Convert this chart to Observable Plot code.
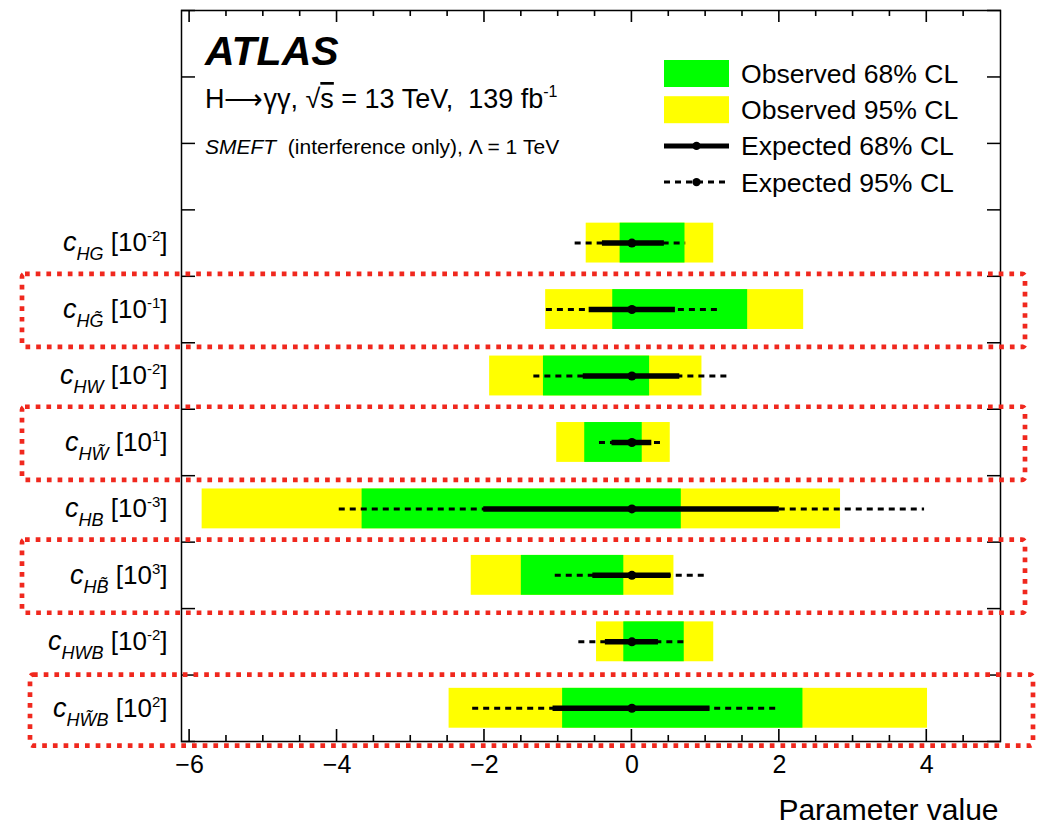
<!DOCTYPE html>
<html>
<head>
<meta charset="utf-8">
<script src="https://cdn.jsdelivr.net/npm/d3@7"></script>
<script src="https://cdn.jsdelivr.net/npm/@observablehq/plot@0.6"></script>
<style>
  html, body { margin: 0; padding: 0; background: #fff; }
  #chart { width: 1040px; height: 826px; }
  text { white-space: pre; }
</style>
</head>
<body>
<div id="chart"></div>
<script>
// ---------------- data ----------------
const params      = ["cHG", "cHGt", "cHW", "cHWt", "cHB", "cHBt", "cHWB", "cHWtB"];
const subscripts  = ["HG", "HG\u0303", "HW", "HW\u0303", "HB", "HB\u0303", "HWB", "HW\u0303B"];
const exponents   = [-2, -1, -2, 1, -3, 3, -2, 2];
const highlighted = ["cHGt", "cHWt", "cHBt", "cHWtB"];

const obs95Lo = [-0.62, -1.17, -1.93, -1.02, -5.83, -2.18, -0.48, -2.48];
const obs95Hi = [ 1.11,  2.33,  0.95,  0.52,  2.83,  0.57,  1.11,  4.01];
const obs68Lo = [-0.16, -0.26, -1.20, -0.64, -3.66, -1.50, -0.11, -0.94];
const obs68Hi = [ 0.72,  1.57,  0.24,  0.14,  0.67, -0.11,  0.71,  2.32];
const exp95Lo = [-0.77, -1.16, -1.33, -0.44, -3.97, -1.04, -0.72, -2.16];
const exp95Hi = [ 0.73,  1.18,  1.33,  0.43,  3.97,  1.03,  0.73,  2.00];
const exp68Lo = [-0.40, -0.58, -0.66, -0.27, -2.01, -0.53, -0.36, -1.07];
const exp68Hi = [ 0.44,  0.59,  0.65,  0.27,  2.00,  0.53,  0.36,  1.06];
const expBest = [ 0, 0, 0, 0, 0, 0, 0, 0];

const xTickLabels  = [-6, -4, -2, 0, 2, 4];
const legendLabels = ["Observed 68% CL", "Observed 95% CL", "Expected 68% CL", "Expected 95% CL"];
const xTitle = "Parameter value";

// ---------------- layout helpers ----------------
const FONT = "'Liberation Sans', Arial, Helvetica, sans-serif";
const GREEN = "#00ff00", YELLOW = "#ffff00", RED = "#f0281e";
const W = 1040, H = 826, ML = 181, MR = 40, MT = 10, MB = 85;
const nRows = params.length, topSpace = 3;

const rows = params.map((p, i) => ({
  key: p, sub: subscripts[i], exp: exponents[i],
  y: nRows - i - 0.5,
  o95lo: obs95Lo[i], o95hi: obs95Hi[i],
  o68lo: obs68Lo[i], o68hi: obs68Hi[i],
  e95lo: exp95Lo[i], e95hi: exp95Hi[i],
  e68lo: exp68Lo[i], e68hi: exp68Hi[i],
  best: expBest[i]
}));
const byKey = new Map(rows.map(r => [r.key, r]));
const yToKey = new Map(rows.map(r => [r.y, r.key]));
const hlRows = rows.filter(r => highlighted.includes(r.key));

const majorTicks = xTickLabels;
const minorTicks = d3.range(-6, 4.51, 0.5).filter(v => !majorTicks.includes(v));
const yTicks = d3.range(0, nRows + topSpace + 0.01, 1);

// inward x ticks on the bottom and top edges of the frame (through the x scale)
function xTicksMark(index, scales, values, dims) {
  const g = d3.create("svg:g");
  const yb = dims.height - dims.marginBottom, yt = dims.marginTop;
  const add = (v, len) => {
    const x = scales.x(v);
    g.append("path").attr("d", `M${x},${yb}V${yb - len}M${x},${yt}V${yt + len}`)
      .attr("stroke", "#000").attr("stroke-width", 1.6).attr("fill", "none");
  };
  majorTicks.forEach(v => add(v, 12));
  minorTicks.forEach(v => add(v, 6));
  return g.node();
}

// text annotations inside the frame
function annotations(index, scales, values, dims) {
  const g = d3.create("svg:g").attr("font-family", FONT).attr("fill", "black").attr("text-anchor", "start");
  const x0 = dims.marginLeft + 24, t = dims.marginTop;
  g.append("text").attr("x", x0).attr("y", t + 55)
    .attr("font-size", 41).attr("font-weight", "bold").attr("font-style", "italic").text("ATLAS");
  const l2 = g.append("text").attr("x", x0).attr("y", t + 98).attr("font-size", 27);
  l2.append("tspan").text("H\u27F6\u03B3\u03B3, \u221A");
  l2.append("tspan").attr("text-decoration", "overline").text("s");
  l2.append("tspan").text(" = 13 TeV,  139 fb");
  l2.append("tspan").attr("font-size", 16).attr("dy", -11).text("-1");
  const l3 = g.append("text").attr("x", x0).attr("y", t + 144).attr("font-size", 21);
  l3.append("tspan").attr("font-style", "italic").text("SMEFT");
  l3.append("tspan").text("  (interference only), \u039B = 1 TeV");
  return g.node();
}

// legend inside the frame
function legend(index, scales, values, dims) {
  const g = d3.create("svg:g").attr("font-family", FONT).attr("text-anchor", "start");
  const x0 = dims.width - dims.marginRight - 336;
  const y0 = dims.marginTop + 63.5, step = 36.2, w = 65;
  legendLabels.forEach((lab, k) => {
    const cy = y0 + k * step;
    if (k < 2) {
      g.append("rect").attr("x", x0).attr("y", cy - 13.5).attr("width", w).attr("height", 27)
        .attr("fill", k === 0 ? GREEN : YELLOW);
    } else {
      g.append("line").attr("x1", x0).attr("x2", x0 + w).attr("y1", cy).attr("y2", cy)
        .attr("stroke", "black").attr("stroke-width", k === 2 ? 5 : 3)
        .attr("stroke-dasharray", k === 2 ? null : "6,5");
      g.append("circle").attr("cx", x0 + w / 2).attr("cy", cy).attr("r", 4.2).attr("fill", "black");
    }
    g.append("text").attr("x", x0 + 77).attr("y", cy).attr("dy", "0.36em")
      .attr("font-size", 26.6).attr("fill", "black").text(lab);
  });
  return g.node();
}

const chart = Plot.plot({
  width: W, height: H,
  marginLeft: ML, marginRight: MR, marginTop: MT, marginBottom: MB,
  style: { fontFamily: FONT, background: "#fff", overflow: "visible", color: "black" },
  x: { domain: [-6.11, 5], label: null },
  y: { domain: [0, nRows + topSpace], label: null },
  marks: [
    Plot.rect(rows, { x1: "o95lo", x2: "o95hi", y1: d => d.y - 0.3, y2: d => d.y + 0.3, fill: YELLOW }),
    Plot.rect(rows, { x1: "o68lo", x2: "o68hi", y1: d => d.y - 0.3, y2: d => d.y + 0.3, fill: GREEN }),
    Plot.ruleY(rows, { y: "y", x1: "e95lo", x2: "e95hi", stroke: "black", strokeWidth: 3, strokeDasharray: "6,5" }),
    Plot.ruleY(rows, { y: "y", x1: "e68lo", x2: "e68hi", stroke: "black", strokeWidth: 5.5 }),
    Plot.dot(rows, { x: "best", y: "y", r: 4.5, fill: "black" }),
    Plot.frame({ stroke: "black", strokeWidth: 1.5 }),
    xTicksMark,
    Plot.axisX({ anchor: "bottom", ticks: xTickLabels, tickSize: 0, tickPadding: 14, fontSize: 25, label: null }),
    // y axis: parameter labels + inward ticks (left and right)
    Plot.axisY({ anchor: "left", ticks: rows.map(r => r.y), tickFormat: v => yToKey.get(v), tickSize: 0, tickPadding: 14, fontSize: 26, label: null }),
    Plot.axisY({ anchor: "left", ticks: yTicks, tickSize: -14, text: null, label: null, strokeWidth: 1.5 }),
    Plot.axisY({ anchor: "right", ticks: yTicks, tickSize: -14, text: null, label: null, strokeWidth: 1.5 }),
    Plot.text([xTitle], { text: d => d, frameAnchor: "bottom-right", textAnchor: "end", lineAnchor: "top", dy: 57, dx: -2, fontSize: 30 }),
    // highlighted rows (red dotted boxes)
    Plot.rect(hlRows.slice(0, -1), { y1: d => d.y - 0.57, y2: d => d.y + 0.53, insetLeft: -159, insetRight: -25,
      fill: "none", stroke: RED, strokeWidth: 4.7, strokeDasharray: "4.7,6", rx: 3 }),
    Plot.rect(hlRows.slice(-1), { y1: d => d.y - 0.57, y2: d => d.y + 0.5, insetLeft: -151, insetRight: -33,
      fill: "none", stroke: RED, strokeWidth: 4.7, strokeDasharray: "4.7,6", rx: 3 }),
    annotations,
    legend
  ]
});

// rich y-axis labels: c_{sub} [10^{exp}]
d3.select(chart).selectAll('g[aria-label="y-axis tick label"] text').each(function () {
  const r = byKey.get(this.textContent);
  if (!r) return;
  const t = d3.select(this);
  t.text(null);
  t.append("tspan").attr("font-style", "italic").attr("font-size", 27).text("c");
  t.append("tspan").attr("font-style", "italic").attr("font-size", 18).attr("dy", 9).text(r.sub);
  t.append("tspan").attr("dy", -9).text(" [10");
  t.append("tspan").attr("font-size", 15).attr("dy", -10).text(r.exp < 0 ? "-" + (-r.exp) : String(r.exp));
  t.append("tspan").attr("dy", 10).text("]");
});

document.getElementById("chart").appendChild(chart);
</script>
</body>
</html>
